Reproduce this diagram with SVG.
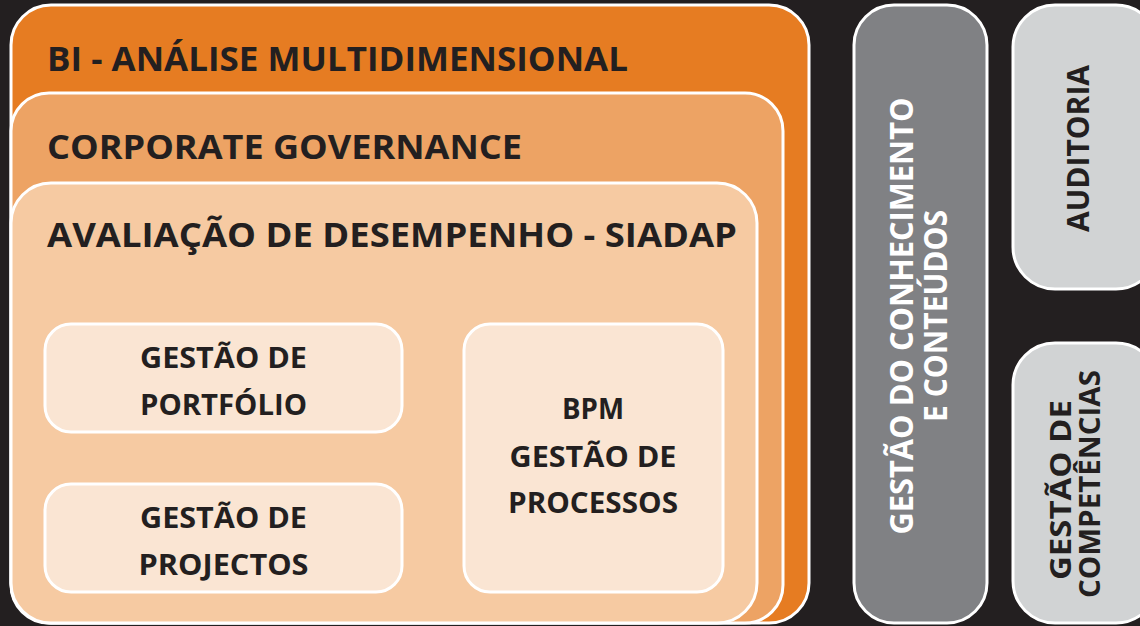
<svg xmlns="http://www.w3.org/2000/svg" width="1140" height="626" viewBox="0 0 1140 626">
<style>
.box{stroke:#ffffff;stroke-width:3}
.t{font-family:"Open Sans","Liberation Sans",sans-serif;font-weight:700;fill:#231f20}
.h{font-size:34.5px}
.i{font-size:28px;text-anchor:middle}
.v{text-anchor:middle}
.w{fill:#ffffff}
</style>
<rect width="1140" height="626" fill="#231f20"/>
<g id="bi">
<rect class="box" x="11" y="5" width="798" height="618" rx="40" fill="#e67c22"/>
<text class="t h" x="47" y="71" textLength="581" lengthAdjust="spacingAndGlyphs">BI - ANÁLISE MULTIDIMENSIONAL</text>
</g>
<g id="corporate">
<rect class="box" x="11" y="93" width="772" height="530" rx="38" fill="#eda364"/>
<text class="t h" x="47" y="159" textLength="475" lengthAdjust="spacingAndGlyphs">CORPORATE GOVERNANCE</text>
</g>
<g id="avaliacao">
<rect class="box" x="11" y="183" width="746" height="440" rx="40" fill="#f6caa2"/>
<text class="t h" x="47" y="247" textLength="690" lengthAdjust="spacingAndGlyphs">AVALIAÇÃO DE DESEMPENHO - SIADAP</text>
</g>
<g id="portfolio">
<rect class="box" x="45" y="324" width="357" height="108" rx="26" fill="#fae5d3"/>
<text class="t i" x="223.5" y="368" textLength="167" lengthAdjust="spacingAndGlyphs">GESTÃO DE</text>
<text class="t i" x="223.5" y="415" textLength="167" lengthAdjust="spacingAndGlyphs">PORTFÓLIO</text>
</g>
<g id="projectos">
<rect class="box" x="45" y="484" width="357" height="108" rx="26" fill="#fae5d3"/>
<text class="t i" x="223.5" y="528" textLength="167" lengthAdjust="spacingAndGlyphs">GESTÃO DE</text>
<text class="t i" x="223.5" y="575" textLength="170" lengthAdjust="spacingAndGlyphs">PROJECTOS</text>
</g>
<g id="bpm">
<rect class="box" x="464" y="324" width="259" height="268" rx="26" fill="#fae5d3"/>
<text class="t i" x="593" y="419" textLength="62" lengthAdjust="spacingAndGlyphs">BPM</text>
<text class="t i" x="593" y="467" textLength="167" lengthAdjust="spacingAndGlyphs">GESTÃO DE</text>
<text class="t i" x="593" y="513" textLength="170" lengthAdjust="spacingAndGlyphs">PROCESSOS</text>
</g>
<g id="conhecimento">
<rect class="box" x="854" y="5" width="133" height="618" rx="40" fill="#808184"/>
<text class="t v w" font-size="32" transform="translate(913 316) rotate(-90)" textLength="437" lengthAdjust="spacingAndGlyphs">GESTÃO DO CONHECIMENTO</text>
<text class="t v w" font-size="32" transform="translate(947 316) rotate(-90)" textLength="212" lengthAdjust="spacingAndGlyphs">E CONTEÚDOS</text>
</g>
<g id="auditoria">
<rect class="box" x="1013" y="5" width="145" height="284" rx="42" fill="#d1d3d4"/>
<text class="t v" font-size="30" transform="translate(1089 148.5) rotate(-90)" textLength="167" lengthAdjust="spacingAndGlyphs">AUDITORIA</text>
</g>
<g id="competencias">
<rect class="box" x="1013" y="343" width="145" height="280" rx="42" fill="#d1d3d4"/>
<text class="t v" font-size="28" transform="translate(1071 490) rotate(-90)" textLength="180" lengthAdjust="spacingAndGlyphs">GESTÃO DE</text>
<text class="t v" font-size="28" transform="translate(1100 484) rotate(-90)" textLength="228" lengthAdjust="spacingAndGlyphs">COMPETÊNCIAS</text>
</g>
<g id="connectors"></g>
</svg>
